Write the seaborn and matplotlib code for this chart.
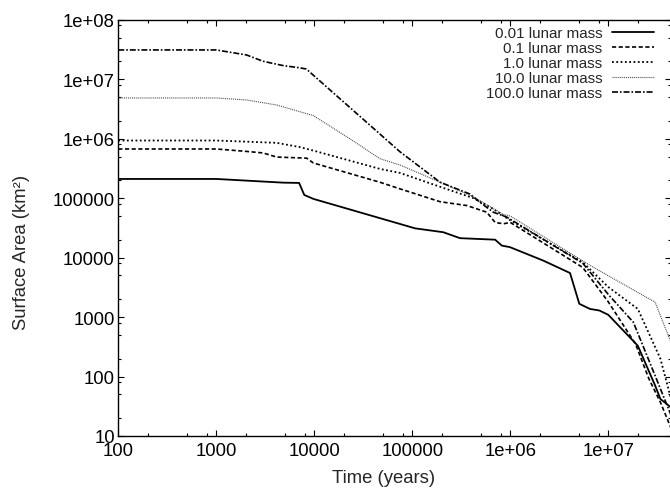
import numpy as np
import pandas as pd
import matplotlib
matplotlib.use("Agg")
import matplotlib.pyplot as plt
from matplotlib.ticker import FixedLocator, FixedFormatter, LogLocator, NullFormatter
import seaborn as sns

# ---------------- data ----------------
labels = ["0.01 lunar mass", "0.1 lunar mass", "1.0 lunar mass",
          "10.0 lunar mass", "100.0 lunar mass"]

t_001 = [100, 1000, 4800, 7000, 7900, 9800, 1.07e5, 2.07e5, 3.07e5, 7.0e5, 8.2e5,
         9.9e5, 2.17e6, 4.07e6, 5.06e6, 6.5e6, 8.1e6, 1.0e7, 2.0e7, 3.0e7, 3.4e7, 4.5e7]
a_001 = [2.1e5, 2.1e5, 1.82e5, 1.8e5, 1.13e5, 9.7e4, 3.1e4, 2.67e4, 2.12e4, 2.0e4, 1.59e4,
         1.5e4, 8.9e3, 5.5e3, 1.67e3, 1.37e3, 1.29e3, 1.09e3, 330, 71, 42, 29]

t_01 = [100, 1000, 2040, 3000, 4130, 8350, 9770, 4.67e4, 7.5e4, 1.92e5, 3.6e5, 5.75e5,
        7.0e5, 8.5e5, 1.0e6, 5.5e6, 1.0e7, 1.9e7, 2.6e7, 3.4e7, 4.5e7]
a_01 = [6.7e5, 6.7e5, 6.1e5, 5.75e5, 4.9e5, 4.7e5, 3.9e5, 1.85e5, 1.43e5, 8.7e4, 7.5e4, 5.8e4,
        3.9e4, 3.7e4, 3.9e4, 6.8e3, 1.8e3, 350, 91, 37, 12]

t_1 = [100, 1000, 4130, 7140, 9770, 4.67e4, 7.5e4, 1.92e5, 4.2e5, 6.7e5, 9.2e5,
       5.5e6, 1.0e7, 2.0e7, 3.4e7, 4.5e7]
a_1 = [9.3e5, 9.3e5, 8.5e5, 7.2e5, 6.3e5, 3.1e5, 2.65e5, 1.55e5, 1.0e5, 6.6e4, 4.6e4,
       8.3e3, 3.2e3, 1.37e3, 200, 35]

t_10 = [100, 1000, 2040, 4130, 9770, 2.3e4, 4.67e4, 7.5e4, 1.92e5, 4.2e5, 8.5e5, 1.0e6,
        6.5e6, 3.0e7, 4.5e7]
a_10 = [4.83e6, 4.83e6, 4.47e6, 3.68e6, 2.44e6, 1.0e6, 4.6e5, 3.6e5, 1.85e5, 1.05e5, 5.3e4, 5.0e4,
        7.4e3, 1.78e3, 330]

t_100 = [100, 1000, 2040, 3000, 4830, 7140, 8300, 7.5e4, 1.92e5, 3.88e5, 4.9e5, 6.7e5,
         9.2e5, 5.5e6, 1.0e7, 1.8e7, 3.1e7, 4.0e7, 4.5e7]
a_100 = [3.1e7, 3.1e7, 2.55e7, 2.0e7, 1.69e7, 1.55e7, 1.48e7, 6.0e5, 1.85e5, 1.17e5, 8.5e4, 5.8e4,
         4.8e4, 8.0e3, 2.4e3, 820, 91, 32, 20]

x_ticks = [100, 1000, 10000, 100000, 1e6, 1e7]
x_tick_labels = ["100", "1000", "10000", "100000", "1e+06", "1e+07"]
y_ticks = [10, 100, 1000, 10000, 100000, 1e6, 1e7, 1e8]
y_tick_labels = ["10", "100", "1000", "10000", "100000", "1e+06", "1e+07", "1e+08"]

series_t = [t_001, t_01, t_1, t_10, t_100]
series_a = [a_001, a_01, a_1, a_10, a_100]

# ---------------- style ----------------
sns.set_style("ticks")
plt.rcParams["font.family"] = ["Liberation Sans", "DejaVu Sans"]
plt.rcParams["lines.scale_dashes"] = False

W, H = 670, 489
fig = plt.figure(figsize=(W / 100, H / 100), dpi=100)
ax_left, ax_right, ax_top, ax_bot = 118.3, 671.0, 20.7, 437.0
ax = fig.add_axes([ax_left / W, (H - ax_bot) / H, (ax_right - ax_left) / W, (ax_bot - ax_top) / H])

styles = [
    dict(linestyle="-", linewidth=1.3, color="black"),
    dict(linestyle=(0, (3.0, 1.8)), linewidth=1.2, color="black"),
    dict(linestyle=(0, (1.3, 1.8)), linewidth=1.3, color="black"),
    dict(linestyle=(0, (0.7, 0.7)), linewidth=0.8, color="#444444"),
    dict(linestyle=(0, (4.3, 1.4, 1.2, 1.4)), linewidth=1.2, color="black"),
]

for lab, tt, aa, st in zip(labels, series_t, series_a, styles):
    df = pd.DataFrame({"t": tt, "a": aa})
    sns.lineplot(data=df, x="t", y="a", ax=ax, estimator=None, sort=False,
                 label=lab, **st)

ax.set_xscale("log")
ax.set_yscale("log")
ax.set_xlim(100, 10 ** (2 + (ax_right - ax_left) / 98.0))
ax.set_ylim(10, 1e8)

ax.xaxis.set_major_locator(FixedLocator(x_ticks))
ax.xaxis.set_major_formatter(FixedFormatter(x_tick_labels))
ax.yaxis.set_major_locator(FixedLocator(y_ticks))
ax.yaxis.set_major_formatter(FixedFormatter(y_tick_labels))
ax.xaxis.set_minor_locator(LogLocator(base=10, subs=(2, 5, 8)))
ax.yaxis.set_minor_locator(LogLocator(base=10, subs=(2, 5, 8)))
ax.xaxis.set_minor_formatter(NullFormatter())
ax.yaxis.set_minor_formatter(NullFormatter())

ax.tick_params(which="both", direction="in", top=True, right=True,
               colors="black", labelsize=13.3, width=0.8)
ax.tick_params(which="major", length=4.3)
ax.tick_params(which="minor", length=2.2)
ax.tick_params(axis="x", which="major", pad=4)
ax.tick_params(axis="y", which="major", pad=2.5)
for sp in ax.spines.values():
    sp.set_linewidth(1.0)
    sp.set_color("black")

ax.set_xlabel("")
ax.set_ylabel("")
fig.text(384 / W, 1 - 479 / H, "Time (years)", fontsize=13.3, ha="center", va="center")
fig.text(22 / W, 1 - 252 / H, "Surface Area (km²)", fontsize=13.3, ha="center", va="center",
         rotation=90)

leg = ax.legend(loc="upper right", bbox_to_anchor=(654 / W, (H - 27) / H),
                bbox_transform=fig.transFigure, frameon=False, markerfirst=False,
                fontsize=10.9, handlelength=2.76, handletextpad=0.64,
                labelspacing=0.07, borderpad=0, borderaxespad=0)

fig.savefig("out.png", dpi=100)
